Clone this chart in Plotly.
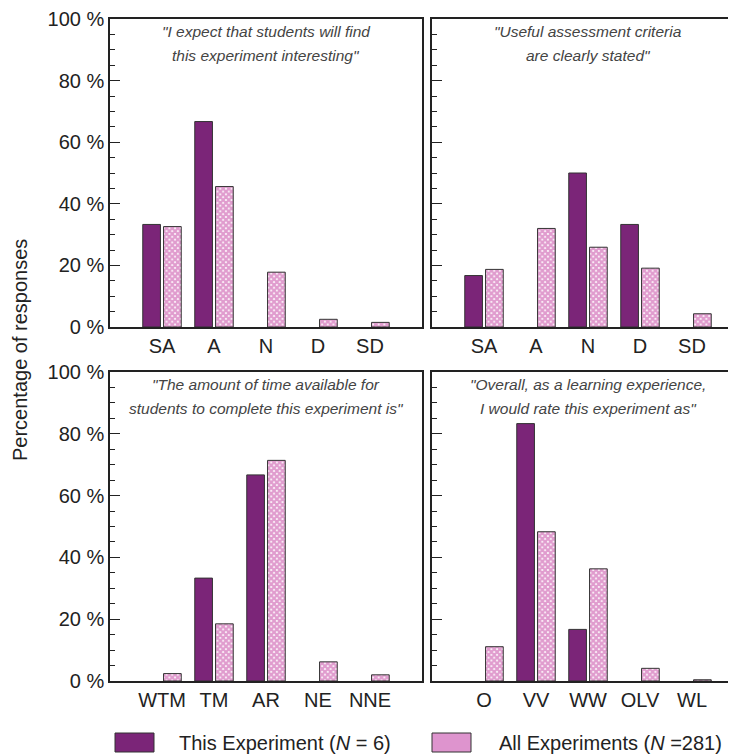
import plotly.graph_objects as go

# The page body has an 8px margin, so the figure is drawn 8px in from the window corner.
OFF = 8
W, H = 736 - OFF, 755 - OFF

cats_tl = ["SA", "A", "N", "D", "SD"]
this_tl = [33.3, 66.7, 0, 0, 0]
all_tl = [32.6, 45.6, 17.8, 2.5, 1.5]

cats_tr = ["SA", "A", "N", "D", "SD"]
this_tr = [16.7, 0, 50.0, 33.3, 0]
all_tr = [18.7, 32.0, 25.9, 19.1, 4.3]

cats_bl = ["WTM", "TM", "AR", "NE", "NNE"]
this_bl = [0, 33.3, 66.7, 0, 0]
all_bl = [2.4, 18.5, 71.4, 6.2, 2.0]

cats_br = ["O", "VV", "WW", "OLV", "WL"]
this_br = [0, 83.3, 16.7, 0, 0]
all_br = [11.1, 48.3, 36.3, 4.1, 0.4]

titles = [
    ('"I expect that students will find', 'this experiment interesting"'),
    ('"Useful assessment criteria', 'are clearly stated"'),
    ('"The amount of time available for', 'students to complete this experiment is"'),
    ('"Overall, as a learning experience,', 'I would rate this experiment as"'),
]
ytick_vals = [0, 20, 40, 60, 80, 100]
ytick_text = ["0 %", "20 %", "40 %", "60 %", "80 %", "100 %"]

PURPLE = "#7B2578"
PINK_FG = "#C23A9E"
EDGE = "#333333"
AXC = "#222222"
FONT = "Liberation Sans"

def px(x):
    return (x - OFF) / W

def py(y):
    return 1 - (y - OFF) / H

def nz(vals):
    # zero-valued bars are not drawn in the reference
    return [v if v != 0 else None for v in vals]

panels = [
    (cats_tl, this_tl, all_tl, (110, 422), (19, 327), True),
    (cats_tr, this_tr, all_tr, (432, 735), (19, 327), False),
    (cats_bl, this_bl, all_bl, (110, 422), (372, 681), True),
    (cats_br, this_br, all_br, (432, 735), (372, 681), False),
]

fig = go.Figure()
unit = (422 - 110) / 6.0

for i, (cats, tv, av, (x0, x1), (y0, y1), left) in enumerate(panels):
    n = i + 1
    xa = "x" if n == 1 else f"x{n}"
    ya = "y" if n == 1 else f"y{n}"
    xs = list(range(len(cats)))
    fig.add_trace(go.Bar(
        x=xs, y=nz(tv), xaxis=xa, yaxis=ya, name="This Experiment",
        marker=dict(color=PURPLE, line=dict(color=EDGE, width=1)),
        showlegend=False, offsetgroup="a",
    ))
    fig.add_trace(go.Bar(
        x=xs, y=nz(av), xaxis=xa, yaxis=ya, name="All Experiments",
        marker=dict(color="white", line=dict(color=EDGE, width=1),
                    pattern=dict(shape="x", size=4, solidity=0.8,
                                 fgcolor=PINK_FG, bgcolor="white")),
        showlegend=False, offsetgroup="b",
    ))
    xr = [-1, -1 + (x1 - x0) / unit]
    fig.layout[f"xaxis{'' if n == 1 else n}"] = dict(
        domain=[px(x0), min(1.0, px(x1))], range=xr, anchor=ya, automargin=False,
        tickmode="array", tickvals=xs, ticktext=cats,
        ticks="", showgrid=False, zeroline=False,
        showline=True, linecolor=AXC, linewidth=1.5, mirror=True,
        tickfont=dict(family=FONT, size=20, color="#222"),
    )
    fig.layout[f"yaxis{'' if n == 1 else n}"] = dict(
        domain=[py(y1), py(y0)], range=[0, 100], anchor=xa, automargin=False,
        tickmode="array", tickvals=ytick_vals, ticktext=ytick_text,
        showticklabels=left,
        ticks="inside", ticklen=10, tickwidth=1.3, tickcolor=AXC,
        minor=dict(ticks="inside", ticklen=5, tickwidth=1, tickcolor=AXC, dtick=5),
        showgrid=False, zeroline=False,
        showline=True, linecolor=AXC, linewidth=1.5, mirror=True,
        tickfont=dict(family=FONT, size=20, color="#222"),
    )
    cx = px(x0 + 156)
    l1, l2 = titles[i]
    fig.add_annotation(
        x=cx, y=py(y0 + 12), xref="paper", yref="paper",
        text="<i>" + l1 + "</i>", showarrow=False,
        xanchor="center", yanchor="middle",
        font=dict(family=FONT, size=15.5, color="#444"),
    )
    fig.add_annotation(
        x=cx, y=py(y0 + 36), xref="paper", yref="paper",
        text="<i>" + l2 + "</i>", showarrow=False,
        xanchor="center", yanchor="middle",
        font=dict(family=FONT, size=15.5, color="#444"),
    )

# y axis title
fig.add_annotation(
    x=px(20), y=py(350), xref="paper", yref="paper",
    text="Percentage of responses", textangle=-90, showarrow=False,
    xanchor="center", yanchor="middle",
    font=dict(family=FONT, size=20, color="#222"),
)

# legend
fig.add_shape(type="rect", xref="paper", yref="paper",
              x0=px(115), x1=px(154), y0=py(752), y1=py(733),
              fillcolor=PURPLE, line=dict(color=EDGE, width=1))
fig.add_shape(type="rect", xref="paper", yref="paper",
              x0=px(432), x1=px(471), y0=py(752), y1=py(733),
              fillcolor="#DE94CE", line=dict(color=EDGE, width=1))
fig.add_annotation(x=px(393), y=py(743), xref="paper", yref="paper",
                   text="This Experiment (<i>N</i> = 6)", showarrow=False,
                   xanchor="right", yanchor="middle",
                   font=dict(family=FONT, size=20, color="#222"))
fig.add_annotation(x=px(497), y=py(743), xref="paper", yref="paper",
                   text="All Experiments (<i>N</i> =281)", showarrow=False,
                   xanchor="left", yanchor="middle",
                   font=dict(family=FONT, size=20, color="#222"))

fig.update_layout(
    width=W, height=H, margin=dict(l=0, r=0, t=0, b=0, pad=0, autoexpand=False),
    paper_bgcolor="white", plot_bgcolor="white",
    barmode="group", bargap=0.2, bargroupgap=0.15,
    showlegend=False,
)

fig.write_html("out.html")
